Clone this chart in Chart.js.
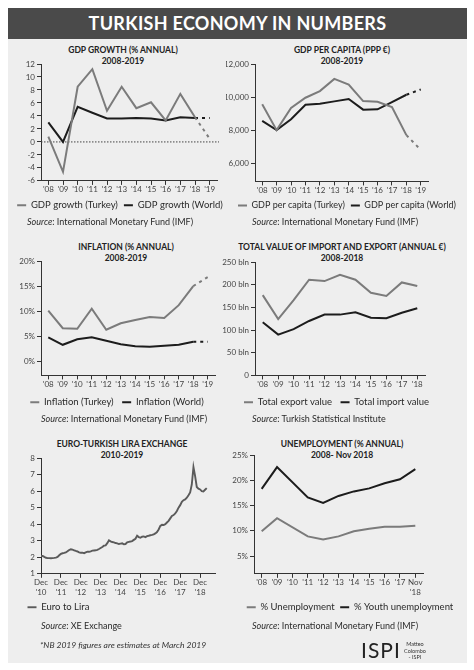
<!DOCTYPE html>
<html>
<head>
<meta charset="utf-8">
<script src="https://cdn.jsdelivr.net/npm/chart.js@4.4.1/dist/chart.umd.min.js"></script>
<style>
  html, body { margin: 0; padding: 0; background: #fff; }
  body { width: 474px; height: 670px; position: relative; overflow: hidden; font-family: Lato, "Open Sans", sans-serif; color: #2a2a2a; }
  #sheet { position: absolute; left: 8px; top: 8px; width: 459px; height: 655px; background: #eeeeee; }
  #banner { position: absolute; left: 8px; top: 8px; width: 459px; height: 31px; background: #4a4a4a; color: #fff;
            font-weight: 700; font-size: 18px; line-height: 31px; text-align: center; letter-spacing: 0.3px; }
  canvas { position: absolute; }
  .ttl { position: absolute; width: 220px; text-align: center; font-weight: 700; font-size: 8.5px; line-height: 11px; color: #222; }
  .src { position: absolute; font-size: 9px; line-height: 11px; white-space: nowrap; color: #2a2a2a; }
  .note { position: absolute; left: 40px; top: 640px; font-size: 8.5px; font-style: italic; color: #333; }
  .logo { position: absolute; left: 361px; top: 638px; font-size: 21px; font-weight: 400; letter-spacing: 1px; color: #222; line-height: 24px; }
  .credit { position: absolute; left: 401px; top: 641px; width: 28px; font-size: 5.5px; line-height: 6.5px; text-align: center; color: #333; }
</style>
</head>
<body>
<div id="sheet"></div>
<div id="banner">TURKISH ECONOMY IN NUMBERS</div>

<div class="ttl" style="left:13px;top:44.5px">GDP GROWTH (% ANNUAL)<br>2008-2019</div>
<div class="ttl" style="left:232px;top:44.5px">GDP PER CAPITA (PPP €)<br>2008-2019</div>
<div class="ttl" style="left:16px;top:241.5px">INFLATION (% ANNUAL)<br>2008-2019</div>
<div class="ttl" style="left:212px;top:241.5px;width:260px">TOTAL VALUE OF IMPORT AND EXPORT (ANNUAL €)<br>2008-2018</div>
<div class="ttl" style="left:12px;top:438.5px">EURO-TURKISH LIRA EXCHANGE<br>2010-2019</div>
<div class="ttl" style="left:232px;top:438.5px">UNEMPLOYMENT (% ANNUAL)<br>2008- Nov 2018</div>

<canvas id="gdpGrowth" width="218" height="164" style="left:11px;top:56px"></canvas>
<canvas id="gdpCapita" width="242" height="164" style="left:226px;top:56px"></canvas>
<canvas id="inflation" width="212" height="164" style="left:11px;top:253px"></canvas>
<canvas id="trade" width="229" height="163" style="left:222px;top:254px"></canvas>
<canvas id="exchange" width="199" height="172" style="left:22px;top:450px"></canvas>
<canvas id="unemployment" width="236" height="175" style="left:232px;top:447px"></canvas>

<div class="src" style="left:27px;top:215.5px"><i>Source</i>: International Monetary Fund (IMF)</div>
<div class="src" style="left:252px;top:215.5px"><i>Source</i>: International Monetary Fund (IMF)</div>
<div class="src" style="left:41px;top:412.5px"><i>Source</i>: International Monetary Fund (IMF)</div>
<div class="src" style="left:252px;top:412.5px"><i>Source</i>: Turkish Statistical Institute</div>
<div class="src" style="left:41px;top:619.5px"><i>Source</i>: XE Exchange</div>
<div class="src" style="left:252px;top:619.5px"><i>Source</i>: International Monetary Fund (IMF)</div>

<div class="note">*NB 2019 figures are estimates at March 2019</div>
<div class="logo">ISPI</div>
<div class="credit">Matteo<br>Colombo<br>- ISPI</div>

<script>
const years = ["'08", "'09", "'10", "'11", "'12", "'13", "'14", "'15", "'16", "'17", "'18", "'19"];
const tradeYears = ["'08", "'09", "'10", "'11", "'12", "'13", "'14", "'15", "'16", "'17", "'18"];
const unempYears = ["'08", "'09", "'10", "'11", "'12", "'13", "'14", "'15", "'16", "'17", ["Nov", "'18"]];

const gdpTurkey = [0.8, -4.6, 8.5, 11.2, 4.8, 8.5, 5.2, 6.1, 3.3, 7.4, 3.8, 0.5];
const gdpWorld = [3.0, 0.0, 5.4, 4.5, 3.6, 3.6, 3.7, 3.6, 3.3, 3.8, 3.7, 3.7];

const capitaTurkey = [9560, 8000, 9340, 9960, 10360, 11100, 10760, 9760, 9720, 9400, 7700, 6800];
const capitaWorld = [8560, 8000, 8660, 9540, 9600, 9740, 9880, 9240, 9260, 9700, 10140, 10460];
const capitaTicks = [6000, 8000, 10000, 12000];

const inflTurkey = [10.1, 6.6, 6.5, 10.5, 6.3, 7.6, 8.25, 8.85, 8.65, 11.2, 15.0, 16.8];
const inflWorld = [4.8, 3.3, 4.4, 4.8, 4.1, 3.4, 3.0, 2.9, 3.1, 3.3, 3.9, 3.9];
const inflTicks = [0, 5, 10, 15, 20];

const exportValue = [177, 124, 166, 211, 208, 222, 211, 182, 175, 205, 197];
const importValue = [117, 90, 102, 120, 134, 134, 139, 127, 126, 138, 148];

// monthly, Dec 2010 -> Apr 2019
const fxRate = [
  2.08, 2.08, 2.02, 1.97, 1.95, 1.95, 1.94, 1.95, 1.96, 1.98, 2.02, 2.12,
  2.20, 2.24, 2.26, 2.30, 2.36, 2.44, 2.48, 2.46, 2.42, 2.38, 2.35, 2.30,
  2.27, 2.28, 2.25, 2.30, 2.34, 2.33, 2.36, 2.40, 2.41, 2.42, 2.45, 2.50,
  2.56, 2.62, 2.70, 2.72, 2.85, 3.02, 2.96, 2.92, 2.90, 2.86, 2.84, 2.80,
  2.82, 2.84, 2.78, 2.80, 2.90, 2.93, 2.95, 2.98, 3.05, 3.12, 3.30, 3.22,
  3.18, 3.24, 3.26, 3.22, 3.28, 3.30, 3.33, 3.35, 3.38, 3.44, 3.52, 3.68,
  3.90, 3.96, 3.95, 4.00, 4.10, 4.20, 4.35, 4.50, 4.55, 4.65, 4.80, 5.00,
  5.15, 5.35, 5.45, 5.50, 5.60, 5.75, 5.92, 6.40, 7.45, 6.90, 6.25, 6.15,
  6.10, 6.00, 5.98, 6.08, 6.18
];
const fxTickLabels = [["Dec", "'10"], ["Dec", "'11"], ["Dec", "'12"], ["Dec", "'13"], ["Dec", "'14"],
                      ["Dec", "'15"], ["Dec", "'16"], ["Dec", "'17"], ["Dec", "'18"]];

const unemp = [9.9, 12.5, null, 8.9, 8.3, 8.9, 9.9, 10.4, 10.8, 10.8, 11.0];
const youthUnemp = [18.3, 22.6, null, 16.6, 15.5, 16.9, 17.8, 18.4, 19.4, 20.2, 22.2];
const unempTicks = [5, 10, 15, 20, 25];

const GREY = '#7b7b7b';
const BLACK = '#1c1c1c';
const AXIS = '#333';

Chart.defaults.font.family = "Lato, 'Open Sans', sans-serif";
Chart.defaults.color = '#333';

// last segment (2018 -> 2019) is an estimate
function series(label, data, color, dashFrom) {
  const ds = {
    label: label,
    data: data,
    borderColor: color,
    backgroundColor: color,
    borderWidth: 2,
    pointRadius: 0,
    tension: 0,
    spanGaps: true
  };
  if (dashFrom != null) {
    ds.segment = { borderDash: c => c.p1DataIndex >= dashFrom ? [3, 4] : undefined };
  }
  return ds;
}

function options(p) {
  return {
    responsive: false,
    animation: false,
    layout: { padding: { top: 8, right: 0, left: 0, bottom: 0 } },
    plugins: {
      legend: {
        position: 'bottom',
        align: p.legendAlign || 'center',
        labels: {
          usePointStyle: true, pointStyle: 'line', pointStyleWidth: 9,
          padding: p.legendPad, color: '#2a2a2a', font: { size: p.legendFont || 9.5 }
        }
      },
      tooltip: { enabled: false }
    },
    scales: {
      x: Object.assign({
        offset: true,
        grid: { drawOnChartArea: false, tickLength: 4, tickColor: AXIS },
        border: { color: AXIS, width: 1 },
        ticks: { color: '#444', font: { size: 8 }, padding: 0, maxRotation: 0, autoSkip: false }
      }, p.x || {}),
      y: Object.assign({
        min: p.yMin,
        max: p.yMax,
        afterFit: s => { s.width = p.yWidth; },
        grid: { drawOnChartArea: false, tickLength: 4, tickColor: AXIS },
        border: { color: AXIS, width: 1 },
        ticks: { color: '#444', font: { size: 8 }, padding: 2 }
      }, p.y || {}),
      // empty right-hand gutter so the plot ends where the reference does
      gutter: {
        axis: 'y',
        position: 'right',
        afterFit: s => { s.width = p.rightGap; },
        ticks: { display: false },
        grid: { display: false },
        border: { display: false }
      }
    }
  };
}

const zeroLine = {
  id: 'zeroLine',
  beforeDatasetsDraw(chart) {
    const { ctx, chartArea, scales } = chart;
    const y = scales.y.getPixelForValue(0);
    ctx.save();
    ctx.strokeStyle = '#444';
    ctx.lineWidth = 1;
    ctx.setLineDash([1.5, 1.5]);
    ctx.beginPath();
    ctx.moveTo(chartArea.left, y);
    ctx.lineTo(chartArea.right + 2, y);
    ctx.stroke();
    ctx.restore();
  }
};

new Chart(document.getElementById('gdpGrowth'), {
  type: 'line',
  data: {
    labels: years,
    datasets: [
      series('GDP growth (Turkey)', gdpTurkey, GREY, 11),
      series('GDP growth (World)', gdpWorld, BLACK, 11)
    ]
  },
  options: options({ yWidth: 30, rightGap: 12, yMin: -6, yMax: 12, legendPad: 6,
    y: { ticks: { color: '#444', font: { size: 8 }, padding: 2, stepSize: 2 } } }),
  plugins: [zeroLine]
});

new Chart(document.getElementById('gdpCapita'), {
  type: 'line',
  data: {
    labels: years,
    datasets: [
      series('GDP per capita (Turkey)', capitaTurkey, GREY, 11),
      series('GDP per capita (World)', capitaWorld, BLACK, 11)
    ]
  },
  options: options({ yWidth: 29, rightGap: 40, yMin: 4900, yMax: 12000, legendPad: 6, legendFont: 9,
    y: {
      afterBuildTicks: s => { s.ticks = capitaTicks.map(v => ({ value: v })); },
      ticks: { color: '#444', font: { size: 8 }, padding: 2, callback: v => v.toLocaleString('en-US') }
    } })
});

new Chart(document.getElementById('inflation'), {
  type: 'line',
  data: {
    labels: years,
    datasets: [
      series('Inflation (Turkey)', inflTurkey, GREY, 11),
      series('Inflation (World)', inflWorld, BLACK, 11)
    ]
  },
  options: options({ yWidth: 30, rightGap: 8, yMin: -2.8, yMax: 20, legendPad: 8.5,
    y: {
      afterBuildTicks: s => { s.ticks = inflTicks.map(v => ({ value: v })); },
      ticks: { color: '#444', font: { size: 8 }, padding: 2, callback: v => v + '%' }
    } })
});

new Chart(document.getElementById('trade'), {
  type: 'line',
  data: {
    labels: tradeYears,
    datasets: [
      series('Total export value', exportValue, GREY),
      series('Total import value', importValue, BLACK)
    ]
  },
  options: options({ yWidth: 33, rightGap: 26, yMin: 0, yMax: 250, legendPad: 8.5,
    y: {
      ticks: { color: '#444', font: { size: 8 }, padding: 2, stepSize: 50, callback: v => v === 0 ? '0' : v + ' bln' }
    } })
});

new Chart(document.getElementById('exchange'), {
  type: 'line',
  data: {
    datasets: [{
      label: 'Euro to Lira',
      data: fxRate.map((v, i) => ({ x: i, y: v })),
      borderColor: '#5a5a5a',
      backgroundColor: '#5a5a5a',
      borderWidth: 1.9,
      pointRadius: 0,
      tension: 0
    }]
  },
  options: options({ yWidth: 19, rightGap: 6, yMin: 1, yMax: 8, legendPad: 5.5, legendAlign: 'start',
    x: {
      type: 'linear',
      offset: false,
      min: 0,
      max: 105,
      afterBuildTicks: s => { s.ticks = fxTickLabels.map((l, i) => ({ value: i * 12 })); },
      grid: { drawOnChartArea: false, tickLength: 4, tickColor: AXIS },
      border: { color: AXIS, width: 1 },
      ticks: { color: '#444', font: { size: 8 }, padding: 0, maxRotation: 0, autoSkip: false,
               callback: (v, i) => fxTickLabels[i] }
    },
    y: { ticks: { color: '#444', font: { size: 8 }, padding: 2, stepSize: 1 } } })
});

new Chart(document.getElementById('unemployment'), {
  type: 'line',
  data: {
    labels: unempYears,
    datasets: [
      series('% Unemployment', unemp, GREY),
      series('% Youth unemployment', youthUnemp, BLACK)
    ]
  },
  options: options({ yWidth: 22, rightGap: 45, yMin: 1.5, yMax: 25, legendPad: 5.5,
    y: {
      afterBuildTicks: s => { s.ticks = unempTicks.map(v => ({ value: v })); },
      ticks: { color: '#444', font: { size: 8 }, padding: 2, callback: v => v + '%' }
    } })
});
</script>
</body>
</html>
